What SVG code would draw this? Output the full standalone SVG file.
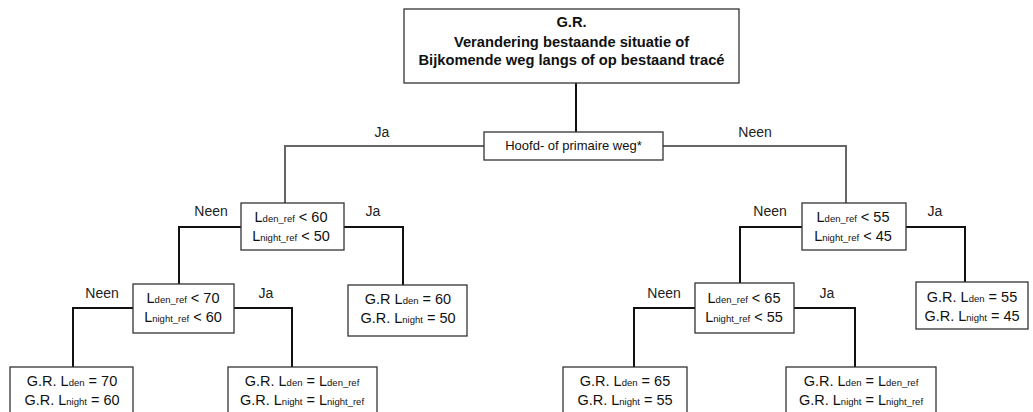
<svg xmlns="http://www.w3.org/2000/svg" width="1033" height="412" viewBox="0 0 1033 412">
<style>
.box{fill:#fff;stroke:#333;stroke-width:1.3}
.t{font-family:"Liberation Sans",Arial,sans-serif;font-size:14.5px;fill:#111;text-anchor:middle}
.tb{font-family:"Liberation Sans",Arial,sans-serif;font-size:14.7px;font-weight:bold;fill:#111;text-anchor:middle}
.lbl{font-family:"Liberation Sans",Arial,sans-serif;font-size:14px;fill:#222;text-anchor:middle}
.s{font-size:9.5px}
.c{fill:none;stroke:#111;stroke-width:2}
.cg{fill:none;stroke:#666;stroke-width:2}
</style>
<rect width="1033" height="412" fill="#fff"/>
<g id="connectors">
<path class="c" d="M576,83 V132"/>
<path class="cg" d="M484,146 H285 V203"/>
<path class="cg" d="M663,146 H846 V203"/>
<path class="c" d="M241,227 H179 V284"/>
<path class="c" d="M344,227 H403 V285"/>
<path class="c" d="M133,308 H73 V367"/>
<path class="c" d="M234,308 H292 V367"/>
<path class="c" d="M802,227 H740 V283"/>
<path class="c" d="M906,227 H965 V282"/>
<path class="c" d="M695,308 H634 V367"/>
<path class="c" d="M794,308 H855 V367"/>
<text class="lbl" x="382" y="137">Ja</text>
<text class="lbl" x="755" y="137">Neen</text>
<text class="lbl" x="211" y="216">Neen</text>
<text class="lbl" x="373" y="216">Ja</text>
<text class="lbl" x="102" y="298">Neen</text>
<text class="lbl" x="266" y="298">Ja</text>
<text class="lbl" x="770" y="216">Neen</text>
<text class="lbl" x="935" y="216">Ja</text>
<text class="lbl" x="664" y="298">Neen</text>
<text class="lbl" x="827" y="298">Ja</text>
</g>
<g id="root">
<rect class="box" x="404" y="9" width="335" height="74"/>
<text class="tb" x="571.5" y="27">G.R.</text>
<text class="tb" x="571.5" y="47">Verandering bestaande situatie of</text>
<text class="tb" x="571.5" y="65">Bijkomende weg langs of op bestaand tracé</text>
</g>
<g id="hoofd">
<rect class="box" x="484" y="132" width="179" height="28"/>
<text class="t" x="573.5" y="150" style="font-size:13px">Hoofd- of primaire weg*</text>
</g>
<g id="cond60">
<rect class="box" x="241" y="203" width="103" height="47"/>
<text class="t" x="291" y="222">L<tspan class="s">den_ref</tspan> &lt; 60</text>
<text class="t" x="291" y="241">L<tspan class="s">night_ref</tspan> &lt; 50</text>
</g>
<g id="cond70">
<rect class="box" x="133" y="284" width="101" height="49"/>
<text class="t" x="183" y="303">L<tspan class="s">den_ref</tspan> &lt; 70</text>
<text class="t" x="183" y="322">L<tspan class="s">night_ref</tspan> &lt; 60</text>
</g>
<g id="gr60">
<rect class="box" x="348" y="285" width="119" height="51"/>
<text class="t" x="408" y="304">G.R L<tspan class="s">den</tspan> = 60</text>
<text class="t" x="408" y="323">G.R. L<tspan class="s">night</tspan> = 50</text>
</g>
<g id="gr70">
<rect class="box" x="10" y="367" width="123" height="50"/>
<text class="t" x="72" y="386">G.R. L<tspan class="s">den</tspan> = 70</text>
<text class="t" x="72" y="405">G.R. L<tspan class="s">night</tspan> = 60</text>
</g>
<g id="grref-left">
<rect class="box" x="228" y="367" width="149" height="50"/>
<text class="t" x="302" y="386">G.R. L<tspan class="s">den</tspan> = L<tspan class="s">den_ref</tspan></text>
<text class="t" x="302" y="405">G.R. L<tspan class="s">night</tspan> = L<tspan class="s">night_ref</tspan></text>
</g>
<g id="cond55">
<rect class="box" x="802" y="203" width="104" height="47"/>
<text class="t" x="853" y="222">L<tspan class="s">den_ref</tspan> &lt; 55</text>
<text class="t" x="853" y="241">L<tspan class="s">night_ref</tspan> &lt; 45</text>
</g>
<g id="cond65">
<rect class="box" x="695" y="283" width="99" height="50"/>
<text class="t" x="744" y="303">L<tspan class="s">den_ref</tspan> &lt; 65</text>
<text class="t" x="744" y="322">L<tspan class="s">night_ref</tspan> &lt; 55</text>
</g>
<g id="gr55">
<rect class="box" x="916" y="282" width="112" height="47"/>
<text class="t" x="972" y="302">G.R. L<tspan class="s">den</tspan> = 55</text>
<text class="t" x="972" y="321">G.R. L<tspan class="s">night</tspan> = 45</text>
</g>
<g id="gr65">
<rect class="box" x="563" y="367" width="124" height="50"/>
<text class="t" x="625" y="386">G.R. L<tspan class="s">den</tspan> = 65</text>
<text class="t" x="625" y="405">G.R. L<tspan class="s">night</tspan> = 55</text>
</g>
<g id="grref-right">
<rect class="box" x="786" y="367" width="150" height="50"/>
<text class="t" x="861" y="386">G.R. L<tspan class="s">den</tspan> = L<tspan class="s">den_ref</tspan></text>
<text class="t" x="861" y="405">G.R. L<tspan class="s">night</tspan> = L<tspan class="s">night_ref</tspan></text>
</g>
</svg>
